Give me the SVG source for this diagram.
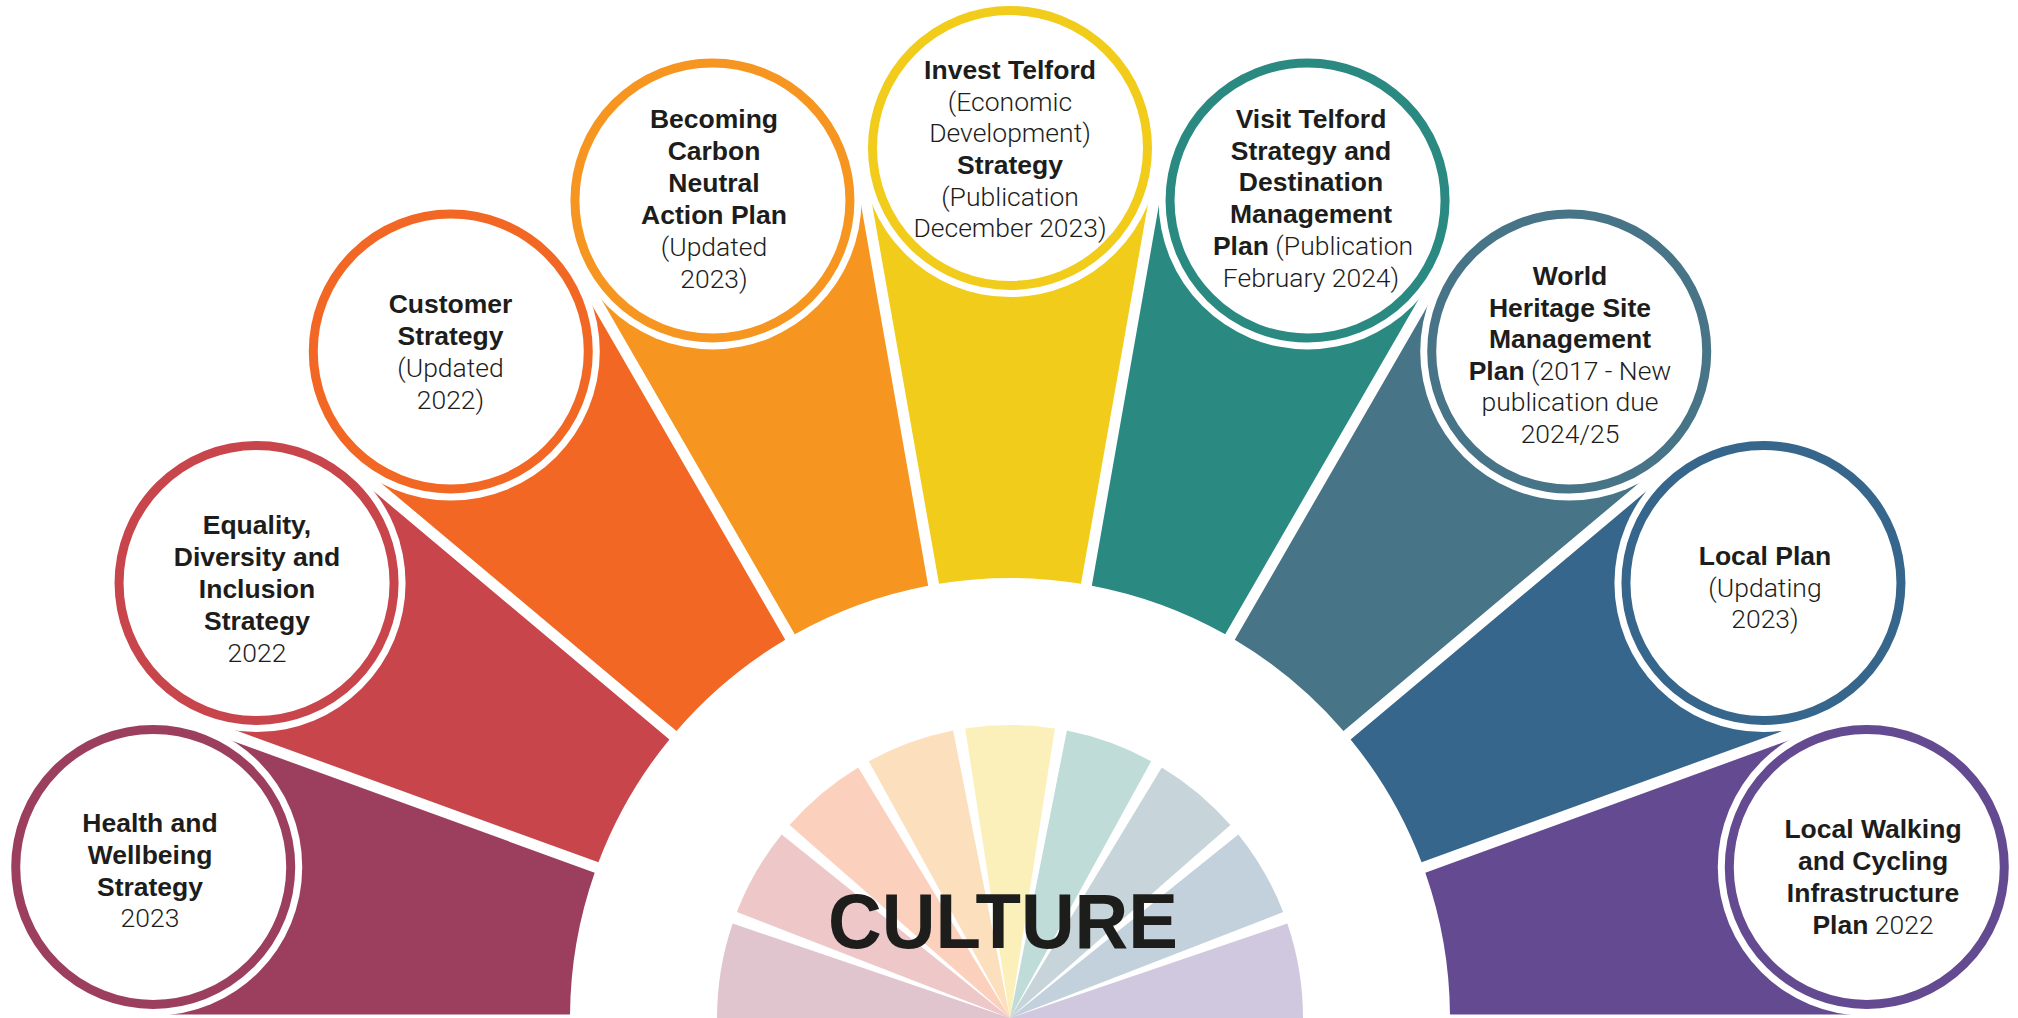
<svg xmlns="http://www.w3.org/2000/svg" xmlns:xlink="http://www.w3.org/1999/xlink" width="2018" height="1018" viewBox="0 0 2018 1018">
  <style>
    .halo { fill: #ffffff; }
    .ring { fill: #ffffff; stroke-width: 9; }
    .lbl { font-family: "Liberation Sans", Arial, sans-serif; font-size: 26.5px; fill: #1d1d1b; text-anchor: middle; }
    .b { font-weight: bold; }
    .l { font-family: Roboto, "Liberation Sans", Arial, sans-serif; font-weight: 300; }
    .pastel { fill-opacity: 0.3; }
    .title { font-family: "Liberation Sans", Arial, sans-serif; font-weight: bold; font-size: 77px; fill: #1d1d1b; text-anchor: middle; }
  </style>
  <defs>
    <!-- band pointing straight up from the hub; rotated about (1010,1018) for each plan -->
    <path id="band" d="M1080.98,583.75 L1152.19,179.96 L1010,148 L867.81,179.96 L939.02,583.75 A440,440 0 0 1 1080.98,583.75 Z"/>
    <!-- pastel slice pointing straight up, 17.6 degrees wide -->
    <path id="slice" d="M1010,1018 L1054.83,728.45 A293,293 0 0 0 965.17,728.45 Z"/>
  </defs>

  <rect width="2018" height="1018" fill="#ffffff"/>

  <!-- coloured bands linking each plan to the culture hub -->
  <g id="connectors">
    <path fill="#9c3f5e" transform="rotate(-80 1010 1018)" d="M1080.98,583.75 L1152.19,179.96 L1010,148 L865.85,180.30 L937.05,584.08 A440,440 0 0 1 1080.98,583.75 Z"/>
    <use xlink:href="#band" fill="#c8454b" transform="rotate(-60 1010 1018)"/>
    <use xlink:href="#band" fill="#f26724" transform="rotate(-40 1010 1018)"/>
    <use xlink:href="#band" fill="#f69620" transform="rotate(-20 1010 1018)"/>
    <use xlink:href="#band" fill="#f1cc1b"/>
    <use xlink:href="#band" fill="#2a8a82" transform="rotate(20 1010 1018)"/>
    <use xlink:href="#band" fill="#477486" transform="rotate(40 1010 1018)"/>
    <use xlink:href="#band" fill="#37668c" transform="rotate(60 1010 1018)"/>
    <path fill="#644a91" transform="rotate(80 1010 1018)" d="M1082.95,584.08 L1154.15,180.30 L1010,148 L867.81,179.96 L939.02,583.75 A440,440 0 0 1 1082.95,584.08 Z"/>
  </g>

  <!-- culture hub: pale fan with title -->
  <g id="culture">
    <path class="pastel" fill="#9c3f5e" d="M1010,1018 L717,1018 A293,293 0 0 1 732.67,923.59 Z"/>
    <use xlink:href="#slice" class="pastel" fill="#c8454b" transform="rotate(-60 1010 1018)"/>
    <use xlink:href="#slice" class="pastel" fill="#f26724" transform="rotate(-40 1010 1018)"/>
    <use xlink:href="#slice" class="pastel" fill="#f69620" transform="rotate(-20 1010 1018)"/>
    <use xlink:href="#slice" class="pastel" fill="#f1cc1b"/>
    <use xlink:href="#slice" class="pastel" fill="#2a8a82" transform="rotate(20 1010 1018)"/>
    <use xlink:href="#slice" class="pastel" fill="#477486" transform="rotate(40 1010 1018)"/>
    <use xlink:href="#slice" class="pastel" fill="#37668c" transform="rotate(60 1010 1018)"/>
    <path class="pastel" fill="#644a91" d="M1010,1018 L1287.33,923.59 A293,293 0 0 1 1303,1018 Z"/>
    <text class="title" x="1003" y="948" textLength="350" lengthAdjust="spacingAndGlyphs">CULTURE</text>
  </g>

  <g id="health-wellbeing">
    <circle class="halo" cx="153.22" cy="866.93" r="149"/>
    <circle class="ring" cx="153.22" cy="866.93" r="137.5" stroke="#9c3f5e"/>
    <text class="lbl"><tspan class="b" x="150" y="832">Health and</tspan><tspan class="b" x="150" y="863.8">Wellbeing</tspan><tspan class="b" x="150" y="895.6">Strategy</tspan><tspan class="l" x="150" y="927.4">2023</tspan></text>
  </g>

  <g id="equality-diversity-inclusion">
    <circle class="halo" cx="256.56" cy="583" r="149"/>
    <circle class="ring" cx="256.56" cy="583" r="137.5" stroke="#c8454b"/>
    <text class="lbl"><tspan class="b" x="257" y="534">Equality,</tspan><tspan class="b" x="257" y="566">Diversity and</tspan><tspan class="b" x="257" y="598">Inclusion</tspan><tspan class="b" x="257" y="630">Strategy</tspan><tspan class="l" x="257" y="662">2022</tspan></text>
  </g>

  <g id="customer-strategy">
    <circle class="halo" cx="450.78" cy="351.54" r="149"/>
    <circle class="ring" cx="450.78" cy="351.54" r="137.5" stroke="#f26724"/>
    <text class="lbl"><tspan class="b" x="450.5" y="313">Customer</tspan><tspan class="b" x="450.5" y="345">Strategy</tspan><tspan class="l" x="450.5" y="377">(Updated</tspan><tspan class="l" x="450.5" y="409">2022)</tspan></text>
  </g>

  <g id="carbon-neutral-plan">
    <circle class="halo" cx="712.44" cy="200.47" r="149"/>
    <circle class="ring" cx="712.44" cy="200.47" r="137.5" stroke="#f69620"/>
    <text class="lbl"><tspan class="b" x="714" y="128">Becoming</tspan><tspan class="b" x="714" y="160">Carbon</tspan><tspan class="b" x="714" y="192">Neutral</tspan><tspan class="b" x="714" y="224">Action Plan</tspan><tspan class="l" x="714" y="256">(Updated</tspan><tspan class="l" x="714" y="288">2023)</tspan></text>
  </g>

  <g id="invest-telford">
    <circle class="halo" cx="1010" cy="148" r="149"/>
    <circle class="ring" cx="1010" cy="148" r="137.5" stroke="#f1cc1b"/>
    <text class="lbl"><tspan class="b" x="1010" y="79">Invest Telford</tspan><tspan class="l" x="1010" y="111">(Economic</tspan><tspan class="l" x="1010" y="142">Development)</tspan><tspan class="b" x="1010" y="174">Strategy</tspan><tspan class="l" x="1010" y="206">(Publication</tspan><tspan class="l" x="1010" y="237">December 2023)</tspan></text>
  </g>

  <g id="visit-telford">
    <circle class="halo" cx="1307.56" cy="200.47" r="149"/>
    <circle class="ring" cx="1307.56" cy="200.47" r="137.5" stroke="#2a8a82"/>
    <text class="lbl"><tspan class="b" x="1311" y="128">Visit Telford</tspan><tspan class="b" x="1311" y="160">Strategy and</tspan><tspan class="b" x="1311" y="191">Destination</tspan><tspan class="b" x="1311" y="223">Management</tspan><tspan class="b" x="1313" y="255">Plan</tspan><tspan class="l"> (Publication</tspan><tspan class="l" x="1311" y="287">February 2024)</tspan></text>
  </g>

  <g id="world-heritage-site">
    <circle class="halo" cx="1569.22" cy="351.54" r="149"/>
    <circle class="ring" cx="1569.22" cy="351.54" r="137.5" stroke="#477486"/>
    <text class="lbl"><tspan class="b" x="1570" y="285">World</tspan><tspan class="b" x="1570" y="317">Heritage Site</tspan><tspan class="b" x="1570" y="348">Management</tspan><tspan class="b" x="1570" y="380">Plan</tspan><tspan class="l"> (2017 - New</tspan><tspan class="l" x="1570" y="411">publication due</tspan><tspan class="l" x="1570" y="443">2024/25</tspan></text>
  </g>

  <g id="local-plan">
    <circle class="halo" cx="1763.44" cy="583" r="149"/>
    <circle class="ring" cx="1763.44" cy="583" r="137.5" stroke="#37668c"/>
    <text class="lbl"><tspan class="b" x="1765" y="565">Local Plan</tspan><tspan class="l" x="1765" y="597">(Updating</tspan><tspan class="l" x="1765" y="628">2023)</tspan></text>
  </g>

  <g id="walking-cycling-plan">
    <circle class="halo" cx="1866.78" cy="866.93" r="149"/>
    <circle class="ring" cx="1866.78" cy="866.93" r="137.5" stroke="#644a91"/>
    <text class="lbl"><tspan class="b" x="1873" y="838">Local Walking</tspan><tspan class="b" x="1873" y="870">and Cycling</tspan><tspan class="b" x="1873" y="902">Infrastructure</tspan><tspan class="b" x="1873" y="934">Plan</tspan><tspan class="l"> 2022</tspan></text>
  </g>
</svg>
